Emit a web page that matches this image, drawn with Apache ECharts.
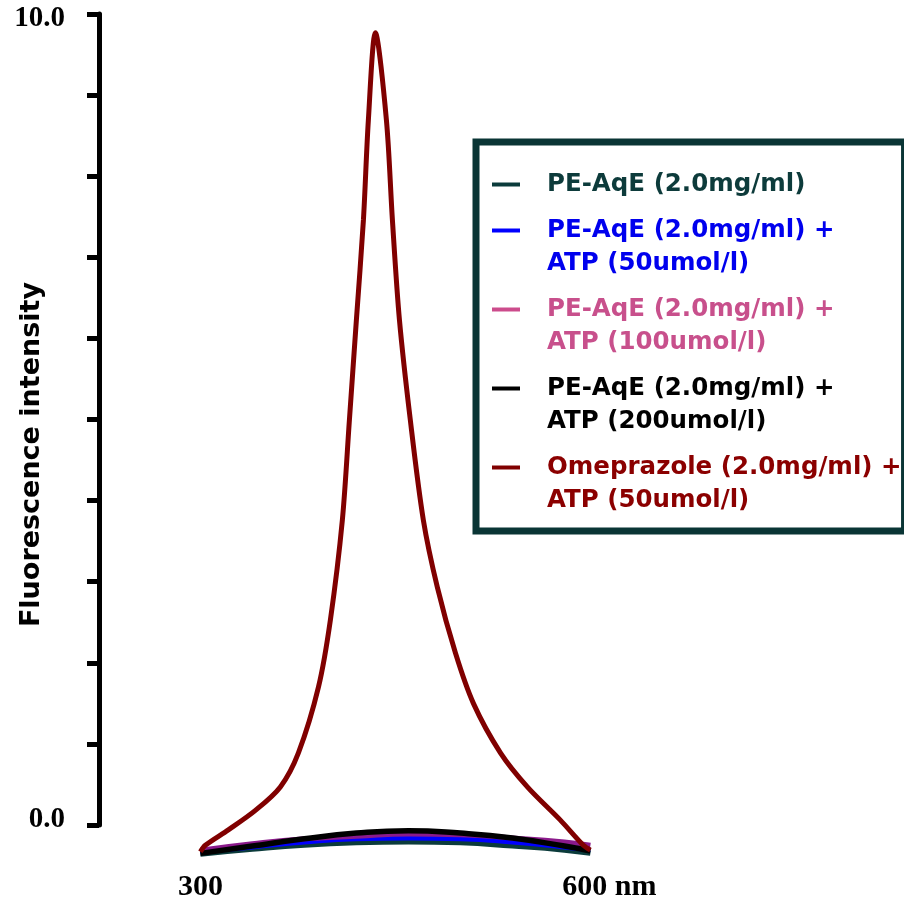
<!DOCTYPE html>
<html>
<head>
<meta charset="utf-8">
<script src="https://cdn.jsdelivr.net/npm/echarts@6/dist/echarts.min.js"></script>
<style>
  html, body { margin: 0; padding: 0; background: #fff; }
  #chart { width: 904px; height: 907px; }
</style>
</head>
<body>
<div id="chart"></div>
<script>
// 图例名称
const seriesNames = [
  "PE-AqE (2.0mg/ml)",
  "PE-AqE (2.0mg/ml) +\nATP (50umol/l)",
  "PE-AqE (2.0mg/ml) +\nATP (100umol/l)",
  "PE-AqE (2.0mg/ml) +\nATP (200umol/l)",
  "Omeprazole (2.0mg/ml) +\nATP (50umol/l)",
]

// 波长 (nm)
const lowX = [300, 340, 380, 420, 460, 500, 540, 580, 600]
const tealVals = [-0.36, -0.30, -0.25, -0.22, -0.21, -0.22, -0.26, -0.31, -0.35]
const blueVals = [-0.33, -0.27, -0.21, -0.17, -0.16, -0.17, -0.21, -0.27, -0.31]
const purpleVals = [-0.31, -0.23, -0.17, -0.14, -0.11, -0.12, -0.16, -0.21, -0.25]
const blackVals = [-0.35, -0.26, -0.17, -0.10, -0.07, -0.10, -0.16, -0.26, -0.32]

const redX = [300, 303.8, 321.5, 342.3, 361.5, 375.4, 390.8, 400, 409.2, 414.6, 420, 425.4, 429.2, 434.6,
  443.1, 447.7, 453.1, 461.5, 471.5, 482.3, 496.2, 510, 530.8, 551.5, 576.9, 594.6, 600]
const redVals = [-0.33, -0.25, -0.06, 0.18, 0.47, 0.89, 1.70, 2.53, 3.76, 4.99, 6.23, 7.46, 8.69, 9.77,
  8.69, 7.46, 6.23, 4.99, 3.76, 2.93, 2.12, 1.50, 0.89, 0.47, 0.06, -0.25, -0.31]

// 刻度标签
const xTickValues = [300, 600]
const xTickLabels = ["300", "600 nm"]
const yTickLabels = ["0.0", "10.0"]

const lineColors = ["#0b3b3b", "#0000ff", "#8b1a8b", "#000000", "#800000"]
const iconColors = ["#0b3b3b", "#0000ff", "#cc4c8c", "#000000", "#800000"]
const textColors = ["#0d3b3b", "#0000ee", "#c8508c", "#000000", "#8b0000"]
const lineWidths = [5, 5, 5, 5.5, 5]

const pair = (xs, ys) => xs.map((x, i) => [x, ys[i]])
const seriesData = [
  pair(lowX, tealVals),
  pair(lowX, blueVals),
  pair(lowX, purpleVals),
  pair(lowX, blackVals),
  pair(redX, redVals),
]

const myChart = echarts.init(document.getElementById("chart"))

const option = {
  backgroundColor: "#ffffff",
  animation: false,
  grid: {
    left: 99,
    top: 14,
    width: 751.4,
    bottom: 82,
    containLabel: false,
    outerBoundsMode: "none",
  },
  legend: {
    orient: "vertical",
    left: 476,
    top: 142,
    icon: "rect",
    itemWidth: 28,
    itemHeight: 4,
    itemGap: -20,
    padding: [26, 3, 14, 16],
    borderColor: "#0a3535",
    borderWidth: 7,
    backgroundColor: "#ffffff",
    selectedMode: false,
    itemStyle: { borderWidth: 0 },
    // 多行文字: 前面补一空行, 让第一行和图标对齐
    formatter: (name) => (name.indexOf("\n") >= 0 ? "\n" + name : name),
    textStyle: {
      fontFamily: "DejaVu Sans",
      fontWeight: "bold",
      fontSize: 24.5,
      lineHeight: 33,
      padding: [0, 0, 0, 22],
    },
    data: seriesNames.map((name, i) => ({
      name: name,
      textStyle: { color: textColors[i] },
    })),
  },
  xAxis: {
    type: "value",
    min: 222,
    max: 800,
    splitLine: { show: false },
    axisLine: { show: false },
    axisTick: { show: false },
    axisLabel: {
      customValues: xTickValues,
      margin: 47,
      fontFamily: "Liberation Serif",
      fontWeight: "bold",
      fontSize: 30,
      color: "#000",
      formatter: (v) => {
        const idx = xTickValues.indexOf(v)
        if (idx === 1) return "{r|" + xTickLabels[1] + "}"
        return idx >= 0 ? xTickLabels[idx] : ""
      },
      rich: {
        r: {
          fontFamily: "Liberation Serif",
          fontWeight: "bold",
          fontSize: 30,
          color: "#000",
          padding: [0, 0, 0, 38],
        },
      },
    },
  },
  yAxis: {
    type: "value",
    min: 0,
    max: 10,
    interval: 1,
    name: "Fluorescence intensity",
    nameLocation: "middle",
    nameRotate: 90,
    nameGap: 54,
    nameMoveOverlap: false,
    nameTextStyle: {
      fontFamily: "DejaVu Sans",
      fontWeight: "bold",
      fontSize: 27,
      color: "#000",
      padding: [0, 70, 0, 0],
    },
    splitLine: { show: false },
    axisLine: { show: true, lineStyle: { color: "#000", width: 5 } },
    axisTick: { show: true, length: 12, lineStyle: { color: "#000", width: 5 } },
    axisLabel: {
      margin: 34,
      formatter: (v) => {
        if (v === 0) return "{b|" + yTickLabels[0] + "}"
        if (v === 10) return "{t|" + yTickLabels[1] + "}"
        return ""
      },
      rich: {
        t: {
          fontFamily: "Liberation Serif",
          fontWeight: "bold",
          fontSize: 29,
          color: "#000",
          padding: [10, 0, 0, 0],
        },
        b: {
          fontFamily: "Liberation Serif",
          fontWeight: "bold",
          fontSize: 29,
          color: "#000",
          padding: [0, 0, 10, 0],
        },
      },
    },
  },
  series: seriesNames.map((name, i) => ({
    name: name,
    type: "line",
    data: seriesData[i],
    symbol: "none",
    showSymbol: false,
    smooth: i === 4 ? 0.3 : 0.5,
    clip: false,
    itemStyle: { color: iconColors[i] },
    lineStyle: { color: lineColors[i], width: lineWidths[i] },
    z: 2 + i,
  })),
}

myChart.setOption(option)
</script>
</body>
</html>
